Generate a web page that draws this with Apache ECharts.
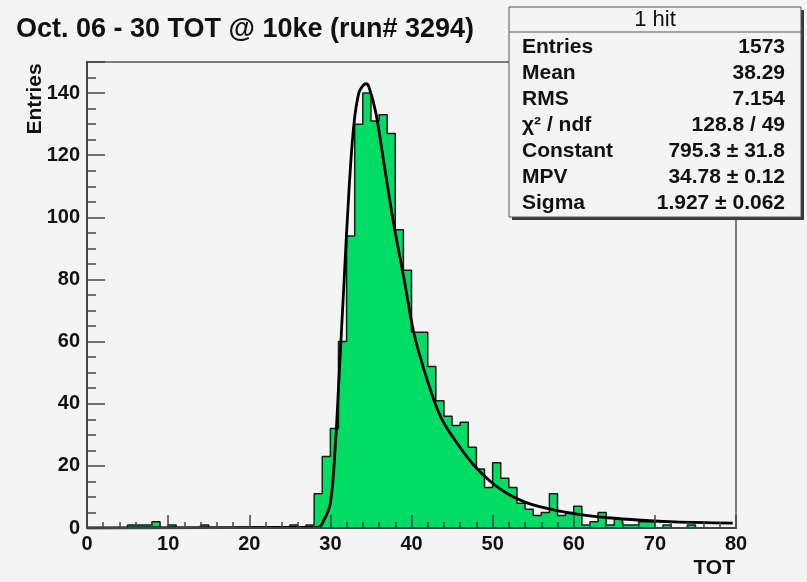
<!DOCTYPE html>
<html>
<head>
<meta charset="utf-8">
<title>TOT @ 10ke</title>
<script src="https://cdn.jsdelivr.net/npm/echarts@6/dist/echarts.min.js"></script>
<style>
  html, body { margin:0; padding:0; background:#f4f4f4; }
  #main { width:807px; height:582px; }
</style>
</head>
<body>
<div id="main"></div>
<script>
// histogram contents, one bin per TOT unit (0..79)
var counts = [
  0, 0, 0, 0, 0, 1, 1, 1, 2, 0,
  1, 0, 0, 0, 1, 0, 0, 0, 0, 0,
  0, 0, 0, 0, 0, 1, 0, 1, 11, 23,
  32, 60, 94, 130, 140, 131, 133, 127, 96, 83,
  63, 63, 52, 41, 36, 33, 34, 26, 19, 13,
  21, 16, 13, 8, 6, 4, 5, 11, 4, 5,
  7, 1, 2, 5, 1, 3, 1, 1, 2, 2,
  0, 1, 0, 0, 1, 0, 0, 0, 0, 0
];

// landau fit
var fitX = [0, 28.5, 29.2, 30.0, 30.6, 31.05, 31.7, 32.3, 32.9, 33.5, 34.05, 34.4, 34.75, 35.6, 36.6, 37.8, 39.1, 40.3, 41.95, 43.6, 45.65, 47.7, 49.8, 51.8, 53.9, 55.9, 60, 64.2, 68.3, 72.4, 79.6];
var fitY = [0, 0.3, 2.5, 7.9, 26, 47.6, 80, 109, 130, 140, 142.5, 143, 142, 133.7, 117.5, 98, 80, 62.7, 47.6, 35.8, 27.2, 20.2, 14.8, 11.1, 8.4, 6.8, 4.6, 3.3, 2.5, 2.0, 1.6];

var xTicks = [0, 80, 10];   // min, max, step
var yTicks = [0, 150, 20];

var statsTitle = '1 hit';
var statsNames = ['Entries', 'Mean', 'RMS', 'χ² / ndf', 'Constant', 'MPV', 'Sigma'];
var statsValues = ['1573', '38.29', '7.154', '128.8 / 49', '795.3 ± 31.8', '34.78 ± 0.12', '1.927 ± 0.062'];

var titleText = 'Oct. 06 - 30 TOT @ 10ke (run# 3294)';
var xTitle = 'TOT';
var yTitle = 'Entries';

var FONT = '"Liberation Sans", Arial, Helvetica, sans-serif';

var histPts = [];
for (var i = 0; i < counts.length; i++) {
  histPts.push([i, counts[i]]);
  histPts.push([i + 1, counts[i]]);
}
var fitPts = [];
for (var j = 0; j < fitX.length; j++) fitPts.push([fitX[j], fitY[j]]);

// stats box
var box = { x: 509, y: 7, w: 292, h: 210 };
var stats = [
  { type: 'rect', shape: { x: box.x + 3, y: box.y + 3, width: box.w, height: box.h }, style: { fill: '#3a3a3a' } },
  { type: 'rect', shape: { x: box.x, y: box.y, width: box.w, height: box.h }, style: { fill: '#f4f4f4', stroke: '#555', lineWidth: 1 } },
  { type: 'line', shape: { x1: box.x, y1: 32, x2: box.x + box.w, y2: 32 }, style: { stroke: '#555', lineWidth: 1 } },
  { type: 'text', x: box.x + box.w / 2, y: 20, style: { text: statsTitle, font: 'normal 22px ' + FONT, fill: '#111', align: 'center', verticalAlign: 'middle' } }
];
for (var k = 0; k < statsNames.length; k++) {
  var yy = 47.7 + k * 25.9;
  stats.push({ type: 'text', x: box.x + 13, y: yy, style: { text: statsNames[k], font: 'bold 21px ' + FONT, fill: '#111', verticalAlign: 'middle' } });
  stats.push({ type: 'text', x: box.x + 276, y: yy, style: { text: statsValues[k], font: 'bold 21px ' + FONT, fill: '#111', align: 'right', verticalAlign: 'middle' } });
}

var chart = echarts.init(document.getElementById('main'), null, { renderer: 'canvas' });
chart.setOption({
  backgroundColor: '#f4f4f4',
  animation: false,
  grid: { left: 87, right: 71, top: 62, bottom: 54, show: true, borderColor: '#555', borderWidth: 1.5, backgroundColor: 'transparent' },
  xAxis: {
    type: 'value', min: xTicks[0], max: xTicks[1], interval: xTicks[2], z: 5,
    axisLine: { lineStyle: { color: '#444', width: 2 } },
    axisTick: { inside: true, length: 13, lineStyle: { color: '#444', width: 1.5 } },
    minorTick: { show: true, splitNumber: 5, length: 6, lineStyle: { color: '#444', width: 1.5 } },
    axisLabel: { margin: 6, fontSize: 20, fontWeight: 'bold', fontFamily: FONT, color: '#111' },
    splitLine: { show: false }
  },
  yAxis: {
    type: 'value', min: yTicks[0], max: yTicks[1], interval: yTicks[2], z: 5,
    axisLine: { show: true, lineStyle: { color: '#444', width: 2 } },
    axisTick: { show: true, inside: true, length: 18, lineStyle: { color: '#444', width: 1.5 } },
    minorTick: { show: true, splitNumber: 4, length: 9, lineStyle: { color: '#444', width: 1.5 } },
    axisLabel: { margin: 7, fontSize: 20, fontWeight: 'bold', fontFamily: FONT, color: '#111', showMaxLabel: false },
    splitLine: { show: false }
  },
  series: [
    {
      name: 'hist', type: 'line', data: histPts, showSymbol: false, symbol: 'none',
      lineStyle: { color: '#1a1a1a', width: 1.5 },
      areaStyle: { color: '#00dc64', opacity: 1, origin: 'start' },
      z: 2
    },
    {
      name: 'fit', type: 'line', data: fitPts, showSymbol: false, symbol: 'none', smooth: 0.35,
      lineStyle: { color: '#000', width: 2.8 },
      z: 3
    }
  ],
  graphic: [
    { type: 'text', x: 16, y: 30, style: { text: titleText, font: 'bold 27px ' + FONT, fill: '#111', verticalAlign: 'middle' } },
    { type: 'text', x: 735, y: 568, style: { text: xTitle, font: 'bold 21px ' + FONT, fill: '#111', align: 'right', verticalAlign: 'middle' } },
    { type: 'text', x: 35, y: 99, rotation: Math.PI / 2, style: { text: yTitle, font: 'bold 21px ' + FONT, fill: '#111', align: 'center', verticalAlign: 'middle' } },
    { type: 'group', children: stats }
  ]
});
</script>
</body>
</html>
